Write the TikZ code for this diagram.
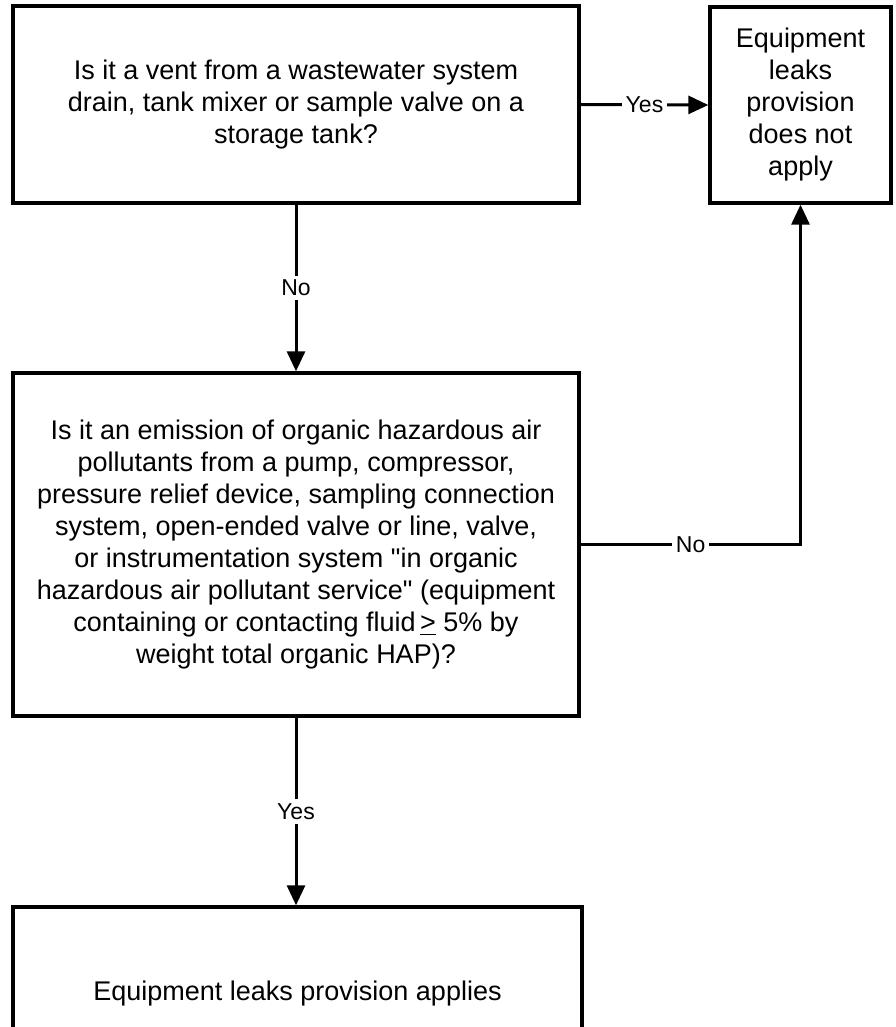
\documentclass[tikz,border=0pt]{standalone}
\usepackage{fontspec}
\setmainfont{Liberation Sans}
\usetikzlibrary{arrows.meta}

\begin{document}
\begin{tikzpicture}[x=0.5pt,y=-0.5pt,
  box/.style={draw,line width=1.7pt,align=center,inner sep=0pt,
    font=\fontsize{13.5}{16}\selectfont},
  answer/.style={fill=white,inner sep=2pt,font=\fontsize{11.5}{13}\selectfont},
  link/.style={line width=1.5pt,-{Triangle[length=10pt,width=9pt]}}]
  \useasboundingbox (0,0) rectangle (895,1027);
  \clip (0,0) rectangle (895,1027);

  % decision boxes
  \node[box,minimum width=283pt,minimum height=98.5pt] (vent) at (296,104.5)
    {Is it a vent from a wastewater system\\drain, tank mixer or sample valve on a\\storage tank?};
  \node[box,minimum width=90.5pt,minimum height=98pt] (notapply) at (800.5,105)
    {Equipment\\leaks\\provision\\does not\\apply};
  \node[box,minimum width=283pt,minimum height=171.5pt] (emission) at (296,544.5)
    {Is it an emission of organic hazardous air\\pollutants from a pump, compressor,\\pressure relief device, sampling connection\\system, open-ended valve or line, valve,\\or instrumentation system \textquotedbl in organic\\hazardous air pollutant service\textquotedbl{} (equipment\\containing or contacting fluid\,\underline{>} 5\% by\\weight total organic HAP)?};
  \node[box,minimum width=284.5pt,minimum height=87pt] (applies) at (297.5,994)
    {Equipment leaks provision applies};

  % connectors
  \draw[link] (vent.east) -- node[answer] {Yes} (notapply.west);
  \draw[link] (vent.south) -- node[answer] {No} (emission.north);
  \draw[link] (emission.east) -| node[answer,pos=0.25] {No} (notapply.south);
  \draw[link] (emission.south) -- node[answer] {Yes} (emission.south |- applies.north);
\end{tikzpicture}
\end{document}
